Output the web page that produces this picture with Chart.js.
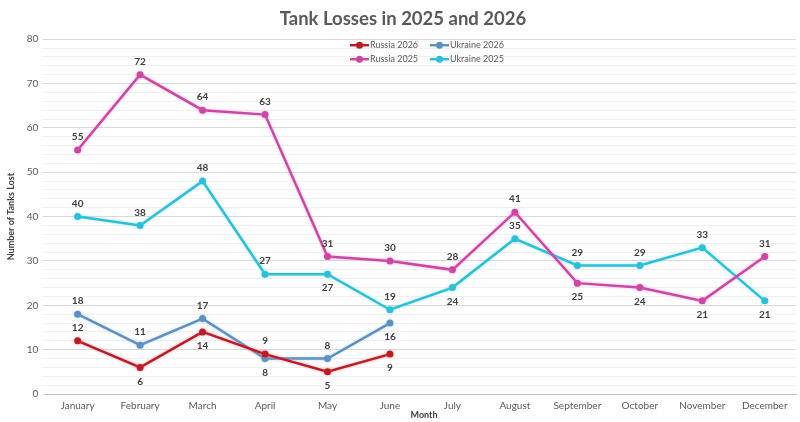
<!DOCTYPE html>
<html>
<head>
<meta charset="utf-8">
<script src="https://cdn.jsdelivr.net/npm/chart.js@4/dist/chart.umd.min.js"></script>
<style>
  html, body { margin: 0; padding: 0; background: #fff; }
  #wrap { width: 800px; height: 422px; }
</style>
</head>
<body>
<div id="wrap"><canvas id="tankChart"></canvas></div>
<script>
const months = ['January', 'February', 'March', 'April', 'May', 'June', 'July',
  'August', 'September', 'October', 'November', 'December'];
const russia2026 = [12, 6, 14, 9, 5, 9];
const ukraine2026 = [18, 11, 17, 8, 8, 16];
const russia2025 = [55, 72, 64, 63, 31, 30, 28, 41, 25, 24, 21, 31];
const ukraine2025 = [40, 38, 48, 27, 27, 19, 24, 35, 29, 29, 33, 21];

// where each value label sits: 'a' above the point, 'b' below
const russia2026Pos = ['a', 'b', 'b', 'a', 'b', 'b'];
const ukraine2026Pos = ['a', 'a', 'a', 'b', 'a', 'b'];
const russia2025Pos = ['a', 'a', 'a', 'a', 'a', 'a', 'a', 'a', 'b', 'b', 'b', 'a'];
const ukraine2025Pos = ['a', 'a', 'a', 'a', 'b', 'a', 'b', 'a', 'a', 'a', 'a', 'b'];

const FONT = 'Lato, "Open Sans", sans-serif';

function series(label, data, color, glow, pos) {
  return {
    label: label,
    data: data,
    borderColor: color,
    backgroundColor: color,
    pointBackgroundColor: color,
    pointBorderWidth: 0,
    borderWidth: 2.5,
    pointRadius: 3.5,
    tension: 0,
    glow: glow,
    labelPos: pos
  };
}

// soft coloured glow under each line
const glowPlugin = {
  id: 'glow',
  beforeDatasetDraw(chart, args) {
    const ds = chart.data.datasets[args.index];
    const ctx = chart.ctx;
    ctx.save();
    ctx.shadowColor = ds.glow;
    ctx.shadowBlur = 3;
  },
  afterDatasetDraw(chart) {
    chart.ctx.restore();
  }
};

const valueLabels = {
  id: 'valueLabels',
  afterDatasetsDraw(chart) {
    const ctx = chart.ctx;
    ctx.save();
    ctx.font = 'bold 10px ' + FONT;
    ctx.fillStyle = '#404040';
    ctx.textAlign = 'center';
    ctx.textBaseline = 'middle';
    chart.data.datasets.forEach((ds, i) => {
      const meta = chart.getDatasetMeta(i);
      meta.data.forEach((pt, j) => {
        const dy = ds.labelPos[j] === 'b' ? 14 : -13;
        ctx.fillText(String(ds.data[j]), pt.x, pt.y + dy);
      });
    });
    ctx.restore();
  }
};

// two-row legend inside the top of the plot, plus the "Month" caption
const extras = {
  id: 'extras',
  afterDraw(chart) {
    const ctx = chart.ctx;
    const area = chart.chartArea;
    const cols = [350, 430];
    ctx.save();
    ctx.font = '9px ' + FONT;
    ctx.textBaseline = 'middle';
    ctx.textAlign = 'left';
    chart.data.datasets.forEach((ds, i) => {
      const x = cols[i % 2];
      const y = area.top + 6 + Math.floor(i / 2) * 14;
      ctx.strokeStyle = ds.borderColor;
      ctx.lineWidth = 2.5;
      ctx.beginPath();
      ctx.moveTo(x, y);
      ctx.lineTo(x + 19, y);
      ctx.stroke();
      ctx.fillStyle = ds.borderColor;
      ctx.beginPath();
      ctx.arc(x + 9.5, y, 3.5, 0, Math.PI * 2);
      ctx.fill();
      ctx.fillStyle = '#595959';
      ctx.fillText(ds.label, x + 20, y);
    });
    ctx.font = 'bold 9px ' + FONT;
    ctx.fillStyle = '#404040';
    ctx.textAlign = 'center';
    ctx.fillText('Month', 424, area.bottom + 21);
    ctx.restore();
  }
};

new Chart(document.getElementById('tankChart'), {
  type: 'line',
  data: {
    labels: months,
    datasets: [
      series('Russia 2026', russia2026, '#bd1c24', 'rgba(255,110,130,0.6)', russia2026Pos),
      series('Ukraine 2026', ukraine2026, '#5d91c2', 'rgba(140,185,235,0.5)', ukraine2026Pos),
      series('Russia 2025', russia2025, '#cc47a2', 'rgba(255,140,220,0.6)', russia2025Pos),
      series('Ukraine 2025', ukraine2025, '#2cc0d8', 'rgba(120,225,240,0.6)', ukraine2025Pos)
    ]
  },
  options: {
    responsive: true,
    maintainAspectRatio: false,
    animation: false,
    layout: { padding: { top: 4, right: 0, left: 6, bottom: 4 } },
    plugins: {
      legend: { display: false },
      tooltip: { enabled: false },
      title: {
        display: true,
        text: 'Tank Losses in 2025 and 2026',
        color: '#595959',
        font: { family: FONT, size: 18.5, weight: 'bold' },
        padding: { top: 4, bottom: 9 }
      }
    },
    scales: {
      x: {
        offset: true,
        grid: { display: false, drawTicks: false },
        border: { color: '#bfbfbf', width: 1 },
        ticks: { color: '#595959', font: { family: FONT, size: 10 }, padding: 6, maxRotation: 0 }
      },
      y: {
        min: 0,
        max: 80,
        border: { display: false },
        grid: {
          color: (c) => (c.tick && c.tick.value % 10 === 0 ? '#d9d9d9' : '#f0f0f0'),
          drawTicks: true,
          tickLength: 4
        },
        ticks: {
          stepSize: 2,
          autoSkip: false,
          color: '#595959',
          font: { family: FONT, size: 10 },
          padding: 4,
          callback: (v) => (v % 10 === 0 ? v : '')
        },
        title: {
          display: true,
          text: 'Number of Tanks Lost',
          color: '#404040',
          font: { family: FONT, size: 9, weight: 'bold' },
          padding: { top: 0, bottom: 6 }
        }
      }
    }
  },
  plugins: [glowPlugin, valueLabels, extras]
});
</script>
</body>
</html>
